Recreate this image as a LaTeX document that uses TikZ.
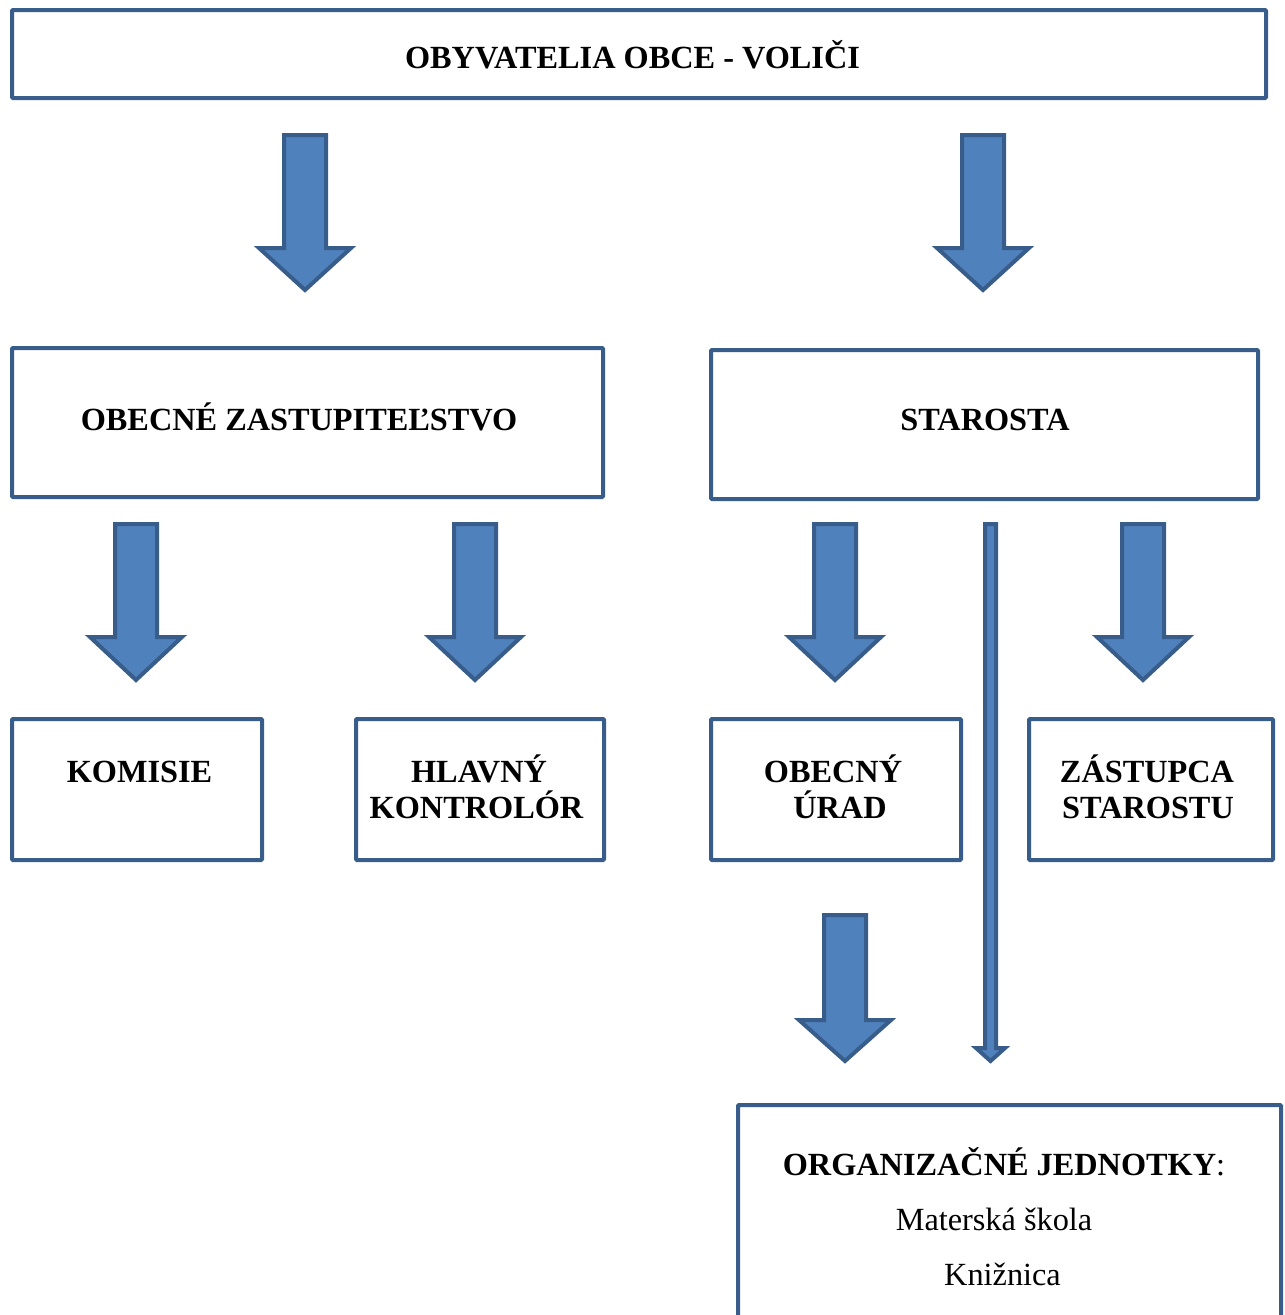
\documentclass[tikz,border=0pt]{standalone}
\usepackage{fontspec}
\setmainfont{Liberation Serif}
\definecolor{bfill}{HTML}{4F81BD}
\definecolor{bline}{HTML}{385D8A}
\newcommand\blkarrow[5]{% name, x, ytop, yhead, ytip
  \draw[barrow] (#2-21,#3) -- (#2+21,#3) -- (#2+21,#4) -- (#2+46,#4) -- (#2,#5) coordinate (#1) -- (#2-46,#4) -- (#2-21,#4) -- cycle;}
\begin{document}
\begin{tikzpicture}[x=1pt,y=-1pt,
  box/.style={draw=bline, line width=4pt, rounded corners=1pt, fill=white, inner sep=0pt},
  barrow/.style={draw=bline, fill=bfill, line width=4pt, line join=miter},
  thinarrow/.style={draw=bline, fill=bfill, line width=4pt, line join=miter},
  lbl/.style={anchor=base, inner sep=0pt, font=\fontsize{32.3}{36.6}\selectfont\bfseries},
  plain/.style={anchor=base, inner sep=0pt, font=\fontsize{32.3}{36.6}\selectfont}]
\useasboundingbox (0,0) rectangle (1285,1315);
\begin{scope}
\clip (0,0) rectangle (1285,1315);
% boxes
\node[box, minimum width=1254pt, minimum height=88pt] (top) at (639,54) {};
\node[box, minimum width=591pt, minimum height=149pt] (oz) at (307.5,422.5) {};
\node[box, minimum width=547pt, minimum height=149pt] (st) at (984.5,424.5) {};
\node[box, minimum width=250pt, minimum height=141pt] (kom) at (137,789.5) {};
\node[box, minimum width=248pt, minimum height=141pt] (hk) at (480,789.5) {};
\node[box, minimum width=250pt, minimum height=141pt] (ou) at (836,789.5) {};
\node[box, minimum width=244pt, minimum height=141pt] (zs) at (1151,789.5) {};
\draw[box] (738,1105) rectangle (1281,1345);
\coordinate (org) at (1009.5,1105);
% labels
\node[lbl] (ttop) at (632.5,68) {OBYVATELIA OBCE - VOLIČI};
\node[lbl] (toz) at (299,430) {OBECNÉ ZASTUPITEĽSTVO};
\node[lbl] (tst) at (985,430) {STAROSTA};
\node[lbl] (tkom) at (139.5,782) {KOMISIE};
\node[lbl] (thk1) at (479,782) {HLAVNÝ};
\node[lbl] (thk2) at (476.5,818.5) {KONTROLÓR};
\node[lbl] (tou1) at (833,782) {OBECNÝ};
\node[lbl] (tou2) at (840,818.5) {ÚRAD};
\node[lbl] (tzs1) at (1147,782) {ZÁSTUPCA};
\node[lbl] (tzs2) at (1148,818.5) {STAROSTU};
\node[anchor=base, inner sep=0pt, font=\fontsize{32.3}{36.6}\selectfont] (torg1) at (1004,1175) {\textbf{ORGANIZAČNÉ JEDNOTKY}:};
\node[plain] (torg2) at (994,1230) {Materská škola};
\node[plain] (torg3) at (1002.5,1285) {Knižnica};
% block arrows
\blkarrow{a1}{305}{135}{248}{290}
\blkarrow{a2}{983}{135}{248}{290}
\blkarrow{a3}{136}{524}{637}{680}
\blkarrow{a4}{475}{524}{637}{680}
\blkarrow{a5}{835}{524}{637}{680}
\blkarrow{a6}{1143}{524}{637}{680}
\blkarrow{a7}{845}{915}{1020}{1061}
% thin arrow from STAROSTA to organizational units
\draw[thinarrow] (985,524) -- (996,524) -- (996,1048) -- (1005,1048) -- (990.5,1061) coordinate (a8) -- (976,1048) -- (985,1048) -- cycle;
\end{scope}
\end{tikzpicture}
\end{document}
